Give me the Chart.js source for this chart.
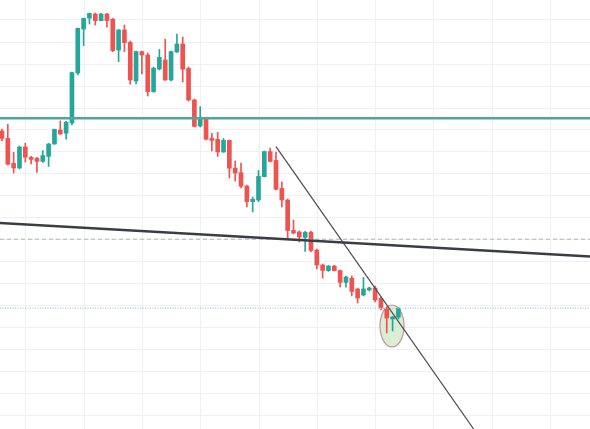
<!DOCTYPE html>
<html>
<head>
<meta charset="utf-8">
<script src="https://cdn.jsdelivr.net/npm/chart.js@4.4.0/dist/chart.umd.min.js"></script>
<style>
    html, body { margin: 0; padding: 0; background: #ffffff; }
    #wrap { width: 590px; height: 429px; }
</style>
</head>
<body>
<div id="wrap"><canvas id="chartCandles" width="590" height="429"></canvas></div>
<script>
// OHLC, one entry per candle (oldest first)
const opens = [149, 145.3, 132.8, 130.5, 141, 135.8, 135.3, 133.8, 136.3, 142.5,
    149.5, 147.9, 153, 178, 200, 205.4, 207.5, 204.2, 207.5, 204.9,
    189.5, 199.5, 193.3, 174, 188.7, 187, 168.7, 180, 184.5, 174.5,
    188.5, 192.5, 180.3, 164.5, 151.5, 154.9, 145.3, 144.8, 138.5, 144.3,
    130.4, 128.2, 121.5, 113.7, 114.5, 126.2, 138.7, 134.3, 120.3, 114.5,
    99.3, 98.5, 95.8, 98.3, 89.5, 82, 79.2, 81.5, 79.2, 73.3,
    75.4, 70, 67, 69.5, 70.5, 65.3, 60.4, 55, 55.9];
const highs = [150, 152.3, 138.3, 141.5, 142.9, 136.3, 135.8, 139.2, 142.8, 150,
    154, 153.8, 178.5, 200.5, 205.5, 208, 208, 207.8, 207.8, 205.3,
    199.8, 202, 194, 189, 189, 188, 181, 189.8, 194.9, 189,
    197.5, 196, 181, 165, 161.2, 155.5, 147.8, 148.3, 145.3, 144.5,
    134, 133, 122, 116, 129.3, 139, 140.5, 138.5, 123.5, 115,
    104.5, 99, 98.8, 99, 90, 82.5, 81.8, 81.8, 79.5, 76.5,
    76.5, 70.5, 75.8, 71, 71.5, 66, 61, 56.3, 60.8];
const lows = [144, 132, 128, 130, 133.5, 132.5, 128.3, 133.3, 131.3, 142.3,
    147.3, 144.9, 152, 177, 191.7, 202.5, 202, 204, 200.9, 188.7,
    183.7, 188.7, 172.4, 172.5, 177.5, 166.5, 168.3, 179.5, 174.3, 174,
    188.3, 173.5, 164, 151, 151, 144.5, 139, 136.3, 138.3, 125.5,
    124, 120.5, 111, 108.5, 113.7, 126, 133.5, 119.5, 111, 95.5,
    97.5, 93.5, 88.8, 88.5, 80, 75.5, 78.8, 79, 71, 70.9,
    66.5, 63, 66.5, 69, 63.5, 59.5, 48, 49, 55];
const closes = [145.3, 132.4, 130.5, 141, 135.9, 134.8, 133.8, 136.7, 142.5, 149.8,
    147.5, 153.4, 178.2, 200.3, 205.3, 207.8, 204.2, 207.5, 204.2, 189.2,
    199.5, 193.2, 174.5, 188.7, 187, 168.7, 180.4, 185.8, 174.5, 188.7,
    192.5, 179.9, 164.5, 151.3, 155.4, 144.9, 144.3, 138.5, 144.3, 130.4,
    128, 121.4, 113.7, 114.9, 126.3, 138.7, 133.8, 119.9, 114.5, 99.2,
    98, 96, 98.3, 89.3, 82, 79.3, 81.5, 79.2, 73.3, 76,
    68.8, 65.5, 70, 70.5, 64.5, 60.4, 55.5, 56, 60.4];

// drawn levels and trend lines
const resistanceLevel = 155.4;
const priceLineDashed = 94.9;
const priceLineLast = 60.4;
const longTrend = [{ x: -0.35, y: 103 }, { x: 100.9, y: 86.25 }];
const fallTrend = [{ x: 47.0, y: 141.15 }, { x: 80.9, y: 0 }];
const marker = { x: 66.9, y: 51.5, dx: 2.06, dy: 10.5 };

// grid positions
const xGrid = [4.1, 14.1, 24.1, 34.1, 44.1, 54.1, 64.1, 74.1, 84.1, 94.1];
const yGrid = [204.5, 193.5, 182.5, 171.5, 160.5, 149.6, 138.6, 127.6, 116.6, 105.6,
    94.6, 83.6, 72.6, 61.6, 50.6, 39.6, 28.7, 17.7, 6.7];

const xMin = -0.34, xMax = 100.86;
const yMin = 0, yMax = 214.5;

const upColor = "#26a69a";
const downColor = "#ef5350";

const candleColors = opens.map((o, i) => (closes[i] >= o ? upColor : downColor));

function fullLine(value) {
    return [{ x: xMin, y: value }, { x: xMax, y: value }];
}

const markerPlugin = {
    id: "marker",
    beforeDatasetsDraw(chart) {
        const { ctx, scales } = chart;
        const cx = scales.x.getPixelForValue(marker.x);
        const cy = scales.y.getPixelForValue(marker.y);
        const rx = Math.abs(scales.x.getPixelForValue(marker.x + marker.dx) - cx);
        const ry = Math.abs(scales.y.getPixelForValue(marker.y + marker.dy) - cy);
        ctx.save();
        ctx.beginPath();
        ctx.ellipse(cx, cy, rx, ry, 0, 0, Math.PI * 2);
        ctx.fillStyle = "rgba(205, 232, 200, 0.75)";
        ctx.fill();
        ctx.lineWidth = 1.2;
        ctx.strokeStyle = "#c99393";
        ctx.stroke();
        ctx.restore();
    },
};

const chartData = {
    datasets: [
        {
            type: "bar",
            label: "wicks",
            data: opens.map((_, i) => ({ x: i, y: [lows[i], highs[i]] })),
            backgroundColor: candleColors,
            barThickness: 1,
            grouped: false,
            order: 3,
        },
        {
            type: "bar",
            label: "bodies",
            data: opens.map((o, i) => ({ x: i, y: [o, closes[i]] })),
            backgroundColor: candleColors,
            barThickness: 4,
            minBarLength: 1.5,
            grouped: false,
            order: 2,
        },
        {
            type: "line",
            label: "resistance",
            data: fullLine(resistanceLevel),
            borderColor: "#4ea79c",
            borderWidth: 2.5,
            pointRadius: 0,
            order: 1,
        },
        {
            type: "line",
            label: "dashed",
            data: fullLine(priceLineDashed),
            borderColor: "#b2b2b2",
            borderWidth: 1,
            borderDash: [4, 3],
            pointRadius: 0,
            order: 1,
        },
        {
            type: "line",
            label: "last",
            data: fullLine(priceLineLast),
            borderColor: "#a9d8d2",
            borderWidth: 1.5,
            borderDash: [1, 1.5],
            pointRadius: 0,
            order: 1,
        },
        {
            type: "line",
            label: "long trend",
            data: longTrend,
            borderColor: "#3a3d45",
            borderWidth: 2.5,
            pointRadius: 0,
            order: 0,
        },
        {
            type: "line",
            label: "fall trend",
            data: fallTrend,
            borderColor: "#4a4a4a",
            borderWidth: 1.2,
            pointRadius: 0,
            order: 0,
        },
    ],
};

const chartOptions = {
    responsive: false,
    animation: false,
    layout: { padding: 0 },
    plugins: {
        legend: { display: false },
        tooltip: { enabled: false },
    },
    scales: {
        x: {
            type: "linear",
            min: xMin,
            max: xMax,
            offset: false,
            bounds: "data",
            afterBuildTicks: (axis) => { axis.ticks = xGrid.map((v) => ({ value: v })); },
            ticks: { display: false },
            grid: { color: "#eef0f3", drawTicks: false, offset: false },
            border: { display: false },
        },
        y: {
            type: "linear",
            min: yMin,
            max: yMax,
            bounds: "data",
            afterBuildTicks: (axis) => { axis.ticks = yGrid.map((v) => ({ value: v })); },
            ticks: { display: false },
            grid: { color: "#eef0f3", drawTicks: false },
            border: { display: false },
        },
    },
};

new Chart(document.getElementById("chartCandles"), {
    type: "bar",
    data: chartData,
    options: chartOptions,
    plugins: [markerPlugin],
});
</script>
</body>
</html>
